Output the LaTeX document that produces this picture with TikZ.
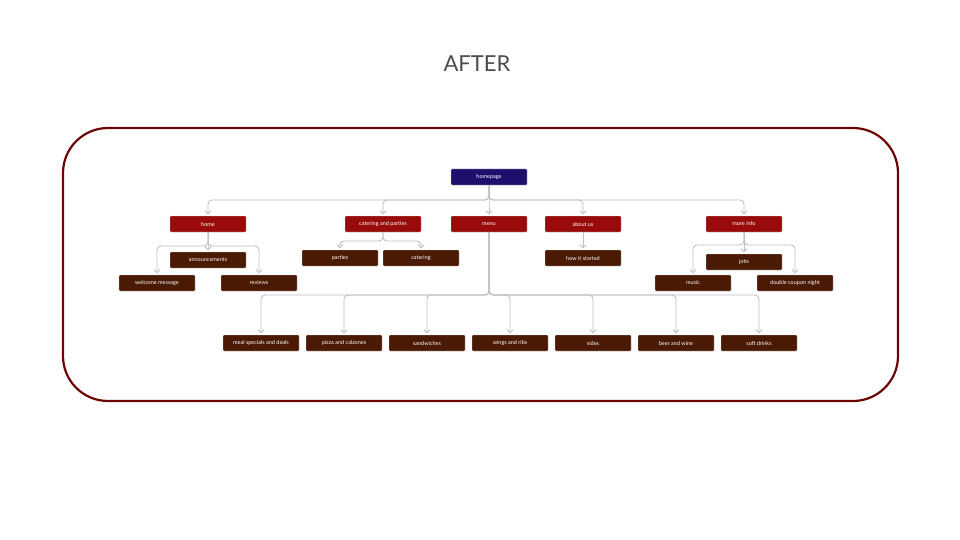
\documentclass[tikz,border=0pt]{standalone}
\usepackage{fontspec}
\setmainfont{Lato}
\usetikzlibrary{arrows.meta}
\definecolor{hp}{HTML}{1F0E6B}
\definecolor{lv1}{HTML}{990A0A}
\definecolor{lv2}{HTML}{4A1A05}
\definecolor{frame}{HTML}{6E0505}
\begin{document}
\begin{tikzpicture}[x=1pt,y=-1pt,
  box/.style={draw=white!80!black,line width=0.3pt,rounded corners=1pt,minimum width=76pt,minimum height=16pt,inner sep=0pt,text=white,font=\fontsize{5.5}{6}\selectfont},
  b0/.style={box,fill=hp},
  b1/.style={box,fill=lv1},
  b2/.style={box,fill=lv2},
  conn/.style={draw=black!25,line width=0.9pt,rounded corners=4pt,-{Straight Barb[length=3pt,width=6pt]},shorten >=1.5pt}]
\useasboundingbox (0,0) rectangle (960,540);
\node[text=black!70,font=\fontsize{22}{24}\selectfont] (title) at (477,64) {AFTER};
\draw[frame,line width=2.2pt,rounded corners=45pt] (63,128) rectangle (898,401);
\node[b0] (hp) at (489,177) {homepage};
\node[b1] (home) at (208,224) {home};
\node[b1] (cat) at (383,224) {catering and parties};
\node[b1] (menu) at (489,224) {menu};
\node[b1] (about) at (583,224) {about us};
\node[b1] (more) at (744,224) {more info};
\node[b2] (ann) at (208,260) {announcements};
\node[b2] (wel) at (157,283) {welcome message};
\node[b2] (rev) at (259,283) {reviews};
\node[b2] (par) at (340,258) {parties};
\node[b2] (ctr) at (421,258) {catering};
\node[b2] (how) at (583,258) {how it started};
\node[b2] (jobs) at (744,262) {jobs};
\node[b2] (mus) at (693,283) {music};
\node[b2] (dcn) at (795,283) {double coupon night};
\node[b2] (m1) at (261,343) {meal specials and deals};
\node[b2] (m2) at (344,343) {pizza and calzones};
\node[b2] (m3) at (427,343) {sandwiches};
\node[b2] (m4) at (510,343) {wings and ribs};
\node[b2] (m5) at (593,343) {sides};
\node[b2] (m6) at (676,343) {beer and wine};
\node[b2] (m7) at (759,343) {soft drinks};
\coordinate (busA) at (0,200);
\coordinate (busH) at (0,246);
\coordinate (busC) at (0,241);
\coordinate (busM) at (0,295);
\coordinate (busI) at (0,245);
\foreach \c in {home,cat,menu,about,more} \draw[conn] (hp.south) -- (hp.south |- busA) -| (\c.north);
\foreach \c in {wel,ann,rev} \draw[conn] (home.south) -- (home.south |- busH) -| (\c.north);
\foreach \c in {par,ctr} \draw[conn] (cat.south) -- (cat.south |- busC) -| (\c.north);
\draw[conn] (about.south) -- (how.north);
\foreach \c in {mus,jobs,dcn} \draw[conn] (more.south) -- (more.south |- busI) -| (\c.north);
\foreach \c in {m1,m2,m3,m4,m5,m6,m7} \draw[conn] (menu.south) -- (menu.south |- busM) -| (\c.north);
\end{tikzpicture}
\end{document}
